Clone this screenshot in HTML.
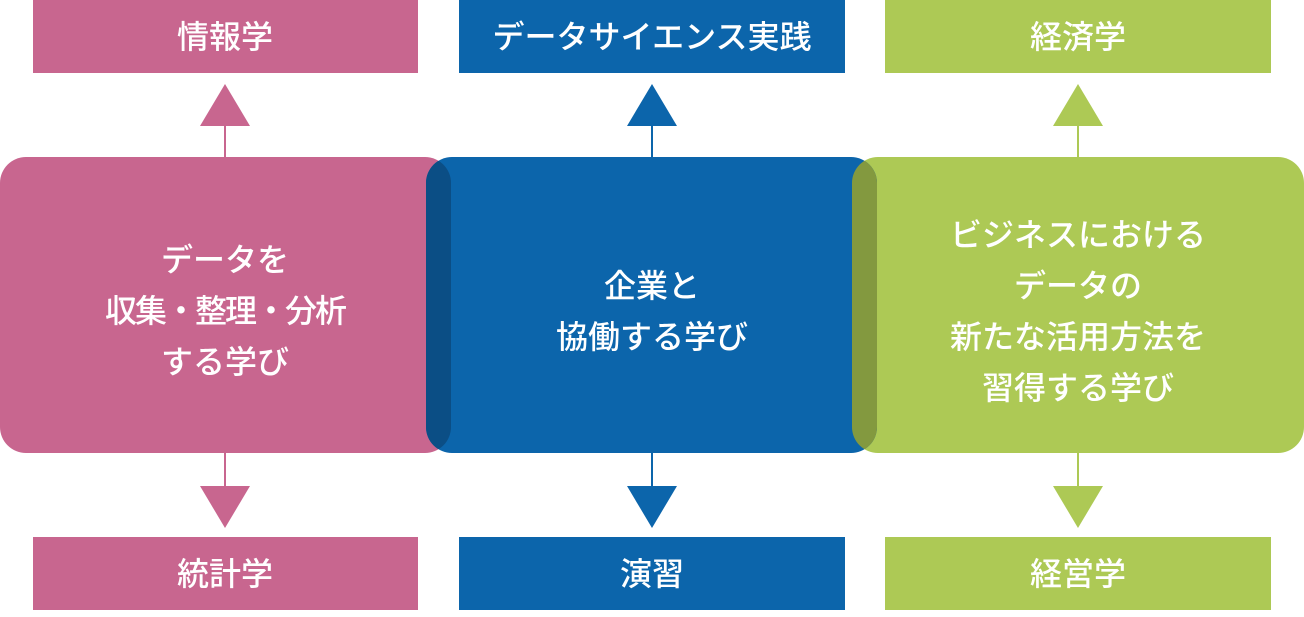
<!DOCTYPE html>
<html><head><meta charset="utf-8"><style>
html,body{margin:0;padding:0;background:#fff}
svg text{font-family:"Liberation Sans","Noto Sans CJK JP",sans-serif;font-weight:500;fill:#fff;text-anchor:middle}
</style></head><body>
<svg width="1304" height="612" viewBox="0 0 1304 612" xmlns="http://www.w3.org/2000/svg">
<defs>
<clipPath id="cp"><rect x="0" y="157" width="451" height="296" rx="26"/></clipPath>
<clipPath id="cg"><rect x="852" y="157" width="452" height="296" rx="26"/></clipPath>
</defs>
<rect x="33" y="0" width="385" height="73" fill="#c8668f"/>
<rect x="33" y="537" width="385" height="73" fill="#c8668f"/>
<rect x="459" y="0" width="386" height="73" fill="#0c65ab"/>
<rect x="459" y="537" width="386" height="73" fill="#0c65ab"/>
<rect x="885" y="0" width="386" height="73" fill="#adc955"/>
<rect x="885" y="537" width="386" height="73" fill="#adc955"/>
<text x="225" y="48" font-size="32">情報学</text>
<text x="225" y="585" font-size="32">統計学</text>
<text x="652" y="48" font-size="32">データサイエンス実践</text>
<text x="652" y="585" font-size="32">演習</text>
<text x="1078" y="48" font-size="32">経済学</text>
<text x="1078" y="585" font-size="32">経営学</text>
<g stroke-width="2">
<line x1="225" y1="120" x2="225" y2="160" stroke="#c8668f"/>
<line x1="225" y1="450" x2="225" y2="490" stroke="#c8668f"/>
<line x1="652" y1="120" x2="652" y2="160" stroke="#0c65ab"/>
<line x1="652" y1="450" x2="652" y2="490" stroke="#0c65ab"/>
<line x1="1078" y1="120" x2="1078" y2="160" stroke="#adc955"/>
<line x1="1078" y1="450" x2="1078" y2="490" stroke="#adc955"/>
</g>
<polygon points="225,84 250,126 200,126" fill="#c8668f"/>
<polygon points="225,528 250,486 200,486" fill="#c8668f"/>
<polygon points="652,84 677,126 627,126" fill="#0c65ab"/>
<polygon points="652,528 677,486 627,486" fill="#0c65ab"/>
<polygon points="1078,84 1103,126 1053,126" fill="#adc955"/>
<polygon points="1078,528 1103,486 1053,486" fill="#adc955"/>
<rect x="0" y="157" width="451" height="296" rx="26" fill="#c8668f"/>
<rect x="852" y="157" width="452" height="296" rx="26" fill="#adc955"/>
<rect x="426" y="157" width="451" height="296" rx="26" fill="#0c65ab"/>
<rect x="426" y="157" width="451" height="296" rx="26" fill="#0b4e85" clip-path="url(#cp)"/>
<rect x="426" y="157" width="451" height="296" rx="26" fill="#83993f" clip-path="url(#cg)"/>
<text x="225" y="271" font-size="32">データを</text>
<text x="225" y="322" font-size="32" letter-spacing="-2">収集・整理・分析</text>
<text x="225" y="373" font-size="32">する学び</text>
<text x="652" y="297" font-size="32">企業と</text>
<text x="652" y="348" font-size="32">協働する学び</text>
<text x="1078" y="246" font-size="32">ビジネスにおける</text>
<text x="1078" y="297" font-size="32">データの</text>
<text x="1078" y="348" font-size="32">新たな活用方法を</text>
<text x="1078" y="399" font-size="32">習得する学び</text>
</svg>
</body></html>
